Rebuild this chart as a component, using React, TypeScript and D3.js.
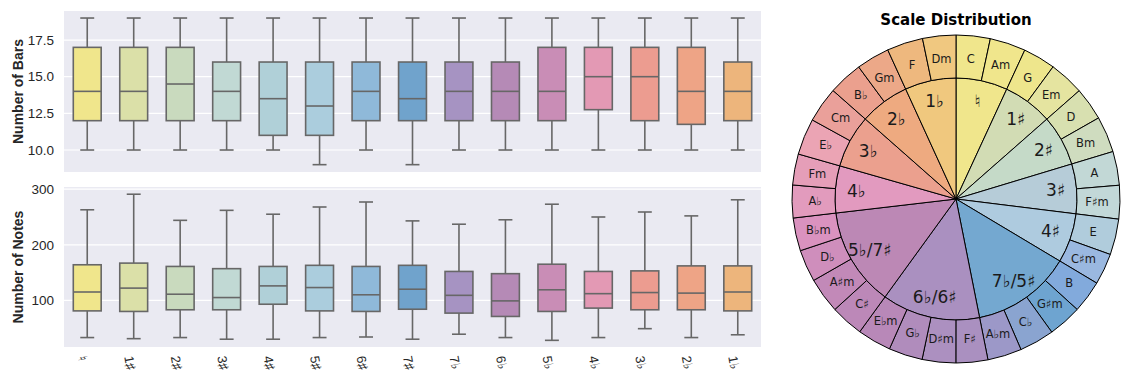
import * as d3 from 'd3';

// categories (key signatures)
const categories = ['♮', '1♯', '2♯', '3♯', '4♯', '5♯', '6♯', '7♯', '7♭', '6♭', '5♭', '4♭', '3♭', '2♭', '1♭'];
const boxColors = ['#f0e68c', '#dbe0a8', '#c9dabe', '#c1d9d4', '#b0d0d8', '#abcddd', '#8fb9d9', '#70a3cc',
  '#a693c2', '#b58ab6', '#c98db6', '#e399b4', '#ec9c90', '#eea486', '#edb57c'];

// Number of Bars
const barsLow = [10, 10, 10, 10, 10, 9, 10, 9, 10, 10, 10, 10, 10, 10, 10];
const barsQ1 = [12, 12, 12, 12, 11, 11, 12, 12, 12, 12, 12, 12.75, 12, 11.75, 12];
const barsMed = [14, 14, 14.5, 14, 13.5, 13, 14, 13.5, 14, 14, 14, 15, 15, 14, 14];
const barsQ3 = [17, 17, 17, 16, 16, 16, 16, 16, 16, 16, 17, 17, 17, 17, 16];
const barsHigh = [19, 19, 19, 19, 19, 19, 19, 19, 19, 19, 19, 19, 19, 19, 19];
const barsTicks = [10, 12.5, 15, 17.5];

// Number of Notes
const notesLow = [33, 31, 33, 30, 30, 33, 34, 30, 39, 33, 28, 33, 49, 33, 38];
const notesQ1 = [81, 80, 83, 83, 93, 81, 80, 84, 77, 71, 80, 86, 83, 83, 81];
const notesMed = [115, 122, 111, 105, 126, 123, 110, 120, 109, 99, 119, 112, 114, 113, 115];
const notesQ3 = [164, 167, 161, 157, 161, 163, 161, 163, 152, 148, 165, 152, 153, 162, 162];
const notesHigh = [263, 291, 244, 262, 255, 268, 277, 243, 237, 245, 273, 250, 259, 252, 281];
const notesTicks = [100, 200, 300];

// pie: outer ring (keys), clockwise from top
const keyNames = ['C', 'Am', 'G', 'Em', 'D', 'Bm', 'A', 'F♯m', 'E', 'C♯m', 'B', 'G♯m', 'C♭', 'A♭m', 'F♯', 'D♯m',
  'G♭', 'E♭m', 'C♯', 'A♯m', 'D♭', 'B♭m', 'A♭', 'Fm', 'E♭', 'Cm', 'B♭', 'Gm', 'F', 'Dm'];
const keyCounts = [121, 127, 115, 124, 117, 128, 120, 119, 127, 111, 115, 119, 124, 121, 113, 119,
  120, 120, 117, 126, 114, 117, 116, 110, 129, 126, 122, 118, 128, 118];
const keyColors = ['#f0e68c', '#f0e68c', '#eee68c', '#e5e4a0', '#d8e0b0', '#cfdcbf', '#c2d8d6', '#c2d8d8',
  '#b0ccdc', '#9ab8e0', '#82aadc', '#6ea4d0', '#8aa4d0', '#9c98c8', '#aa90c0', '#ac90c0',
  '#b08cbc', '#b888b8', '#bc88b8', '#c289b8', '#cf8ebc', '#da92bf', '#e29bbd', '#e59eb8',
  '#eba4b4', '#eaa09a', '#eba08e', '#eca888', '#eeb87e', '#f0c880'];

// pie: inner ring (signatures), each covering a run of keys
const sigNames = ['♮', '1♯', '2♯', '3♯', '4♯', '7♭/5♯', '6♭/6♯', '5♭/7♯', '4♭', '3♭', '2♭', '1♭'];
const sigKeyCount = [2, 2, 2, 2, 2, 4, 4, 4, 2, 2, 2, 2];
const sigColors = ['#f0e68c', '#d2dcb4', '#c5dac8', '#b6ccd8', '#aecbdf', '#74a8d0', '#aa90c0', '#bc88b5',
  '#e29abf', '#eba08e', '#eeaa80', '#f0c87e'];

const W = 1125;
const H = 385;
const left = 64;
const right = 761;
const txt = '#262626';
const sans = 'Liberation Sans, Arial, DejaVu Sans, sans-serif';
const dv = 'DejaVu Sans, sans-serif';

const x = d3.scaleBand<string>().domain(categories).range([left, right]).paddingInner(0).paddingOuter(0);

type BoxProps = {
  y: d3.ScaleLinear<number, number>;
  top: number;
  bottom: number;
  ticks: number[];
  fmt: (v: number) => string;
  label: string;
  low: number[]; q1: number[]; med: number[]; q3: number[]; high: number[];
};

const BoxPanel = ({ y, top, bottom, ticks, fmt, label, low, q1, med, q3, high }: BoxProps) => {
  const bw = x.bandwidth() * 0.6;
  const cw = bw / 2;
  const line = '#676767';
  return (
    <g>
      <rect x={left} y={top} width={right - left} height={bottom - top} fill="#eaeaf2" />
      {ticks.map(t => (
        <g key={t}>
          <line x1={left} x2={right} y1={y(t)} y2={y(t)} stroke="#fff" strokeWidth={1.2} />
          <text x={54} y={y(t)} dy="0.35em" textAnchor="end" fontSize={13.5} fill={txt} fontFamily={sans}>{fmt(t)}</text>
        </g>
      ))}
      <text transform={`translate(18,${(top + bottom) / 2}) rotate(-90)`} textAnchor="middle" dy="0.35em"
        fontSize={14} fontWeight="bold" fill={txt} fontFamily={sans}>{label}</text>
      {categories.map((c, i) => {
        const cx = (x(c) as number) + x.bandwidth() / 2;
        return (
          <g key={c} stroke={line} strokeWidth={1.6} fill="none">
            <line x1={cx} x2={cx} y1={y(high[i])} y2={y(q3[i])} />
            <line x1={cx} x2={cx} y1={y(q1[i])} y2={y(low[i])} />
            <line x1={cx - cw / 2} x2={cx + cw / 2} y1={y(high[i])} y2={y(high[i])} />
            <line x1={cx - cw / 2} x2={cx + cw / 2} y1={y(low[i])} y2={y(low[i])} />
            <rect x={cx - bw / 2} y={y(q3[i])} width={bw} height={y(q1[i]) - y(q3[i])} fill={boxColors[i]} />
            <line x1={cx - bw / 2} x2={cx + bw / 2} y1={y(med[i])} y2={y(med[i])} />
          </g>
        );
      })}
    </g>
  );
};

const App = () => {
  const yBars = d3.scaleLinear().domain([8.5, 19.5]).range([172, 10.7]);
  const yNotes = d3.scaleLinear().domain([16, 304]).range([347, 187]);

  // pie geometry
  const cx = 956;
  const cy = 199;
  const R = 164;
  const rIn = 121;
  const pie = d3.pie<number>().sort(null).value(d => d).startAngle(0).endAngle(2 * Math.PI);
  const outerArcs = pie(keyCounts);
  let k = 0;
  const sigCounts = sigKeyCount.map(n => {
    const s = d3.sum(keyCounts.slice(k, k + n));
    k += n;
    return s;
  });
  const innerArcs = pie(sigCounts);
  const outerArc = d3.arc<d3.PieArcDatum<number>>().innerRadius(rIn).outerRadius(R);
  const innerArc = d3.arc<d3.PieArcDatum<number>>().innerRadius(0).outerRadius(rIn);
  const outerLabel = d3.arc<d3.PieArcDatum<number>>().innerRadius(141).outerRadius(141);
  const innerLabel = d3.arc<d3.PieArcDatum<number>>().innerRadius(100).outerRadius(100);

  return (
    <svg width={W} height={H} style={{ position: 'absolute', left: 0, top: 0, display: 'block' }}>
      <rect width={W} height={H} fill="#fff" />
      <BoxPanel y={yBars} top={11} bottom={172} ticks={barsTicks} fmt={d3.format('.1f')} label="Number of Bars"
        low={barsLow} q1={barsQ1} med={barsMed} q3={barsQ3} high={barsHigh} />
      <BoxPanel y={yNotes} top={187} bottom={347} ticks={notesTicks} fmt={d3.format('d')} label="Number of Notes"
        low={notesLow} q1={notesQ1} med={notesMed} q3={notesQ3} high={notesHigh} />
      {categories.map(c => (
        <text key={c} transform={`translate(${(x(c) as number) + x.bandwidth() / 2 - 5},356) rotate(80)`}
          fontSize={13} fill={txt} fontFamily={sans} dy="0.35em">{c}</text>
      ))}

      <text x={cx} y={25} textAnchor="middle" fontSize={15} fontWeight="bold" fill="#000" fontFamily={dv}>Scale Distribution</text>
      <g transform={`translate(${cx},${cy})`}>
        {innerArcs.map((a, i) => (
          <path key={'i' + i} d={innerArc(a) as string} fill={sigColors[i]} stroke="#000" strokeWidth={1} />
        ))}
        {outerArcs.map((a, i) => (
          <path key={'o' + i} d={outerArc(a) as string} fill={keyColors[i]} stroke="#000" strokeWidth={1} />
        ))}
        {innerArcs.map((a, i) => {
          const [lx, ly] = innerLabel.centroid(a);
          return (
            <text key={'il' + i} x={lx} y={ly} textAnchor="middle" dy="0.35em" fontSize={17} fill="#1a1a1a" fontFamily={dv}>{sigNames[i]}</text>
          );
        })}
        {outerArcs.map((a, i) => {
          const [lx, ly] = outerLabel.centroid(a);
          return (
            <text key={'ol' + i} x={lx} y={ly} textAnchor="middle" dy="0.35em" fontSize={11.5} fill="#1a1a1a" fontFamily={dv}>{keyNames[i]}</text>
          );
        })}
      </g>
    </svg>
  );
};

export default App;
